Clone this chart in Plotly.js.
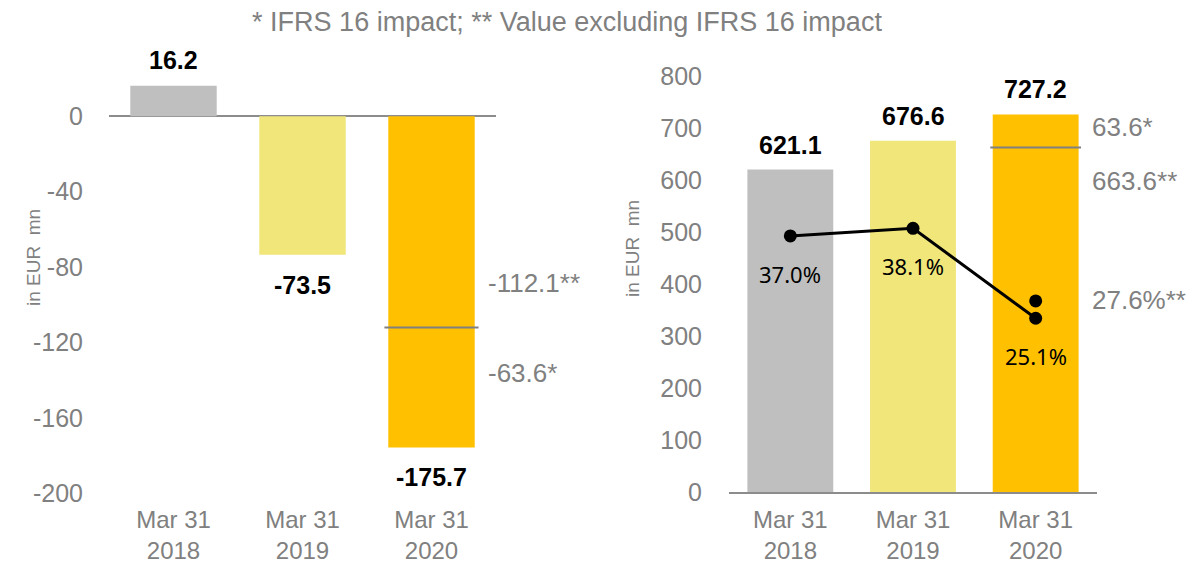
<!DOCTYPE html>
<html>
<head>
<meta charset="utf-8">
<script src="https://cdn.plot.ly/plotly-3.0.1.min.js"></script>
<style>html,body{margin:0;padding:0;background:#fff;}#chart{width:1203px;height:566px;}</style>
</head>
<body>
<div id="chart"></div>
<script>
// ---- data ----
const years = ['2018', '2019', '2020'];
const tickLabels = ['Mar 31<br>2018', 'Mar 31<br>2019', 'Mar 31<br>2020'];
const leftValues = [16.2, -73.5, -175.7];
const leftValueLabels = ['16.2', '-73.5', '-175.7'];
const leftExclValue = -112.1;      // ** value excluding IFRS 16 impact
const leftExclLabel = '-112.1**';
const leftImpactLabel = '-63.6*';  // * IFRS 16 impact
const rightValues = [621.1, 676.6, 727.2];
const rightValueLabels = ['621.1', '676.6', '727.2'];
const rightExclValue = 663.6;
const rightExclLabel = '663.6**';
const rightImpactLabel = '63.6*';
const marginPct = [37.0, 38.1, 25.1];
const marginLabels = ['37.0%', '38.1%', '25.1%'];
const marginExclPct = 27.6;
const marginExclLabel = '27.6%**';
const leftTicks = [-200, -160, -120, -80, -40, 0];
const rightTicks = [0, 100, 200, 300, 400, 500, 600, 700, 800];
const barColors = ['#BFBFBF', '#F0E67A', '#FFC000'];
const titleText = '* IFRS 16 impact; ** Value excluding IFRS 16 impact';
const yTitle = 'in EUR  mn';

// ---- styles ----
const FONT = 'Liberation Sans, Arial, sans-serif';
const GRAY = '#808080';
const AXISGRAY = '#8C8C8C';
const leftBarWidth = 0.67;
const rightBarWidth = 0.70;
const idx = years.map((_, i) => i);

const traces = [
  {type: 'bar', x: years, y: leftValues, xaxis: 'x', yaxis: 'y',
   marker: {color: barColors}, width: leftBarWidth, hoverinfo: 'none', showlegend: false},
  {type: 'bar', x: years, y: rightValues, xaxis: 'x2', yaxis: 'y2',
   marker: {color: barColors}, width: rightBarWidth, hoverinfo: 'none', showlegend: false},
  {type: 'scatter', mode: 'lines+markers', x: years, y: marginPct, xaxis: 'x2', yaxis: 'y3',
   line: {color: '#000', width: 3}, marker: {color: '#000', size: 13}, showlegend: false, hoverinfo: 'none'},
  {type: 'scatter', mode: 'markers', x: [years[2]], y: [marginExclPct], xaxis: 'x2', yaxis: 'y3',
   marker: {color: '#000', size: 13}, showlegend: false, hoverinfo: 'none'}
];

const annotations = [];
// left bar value labels
leftValues.forEach((v, i) => annotations.push({
  xref: 'x', yref: 'y', x: idx[i], y: v, text: '<b>' + leftValueLabels[i] + '</b>',
  showarrow: false, yanchor: 'middle', yshift: v >= 0 ? 26 : -30,
  font: {family: FONT, size: 25, color: '#000'}
}));
// right bar value labels
rightValues.forEach((v, i) => annotations.push({
  xref: 'x2', yref: 'y2', x: idx[i], y: v, text: '<b>' + rightValueLabels[i] + '</b>',
  showarrow: false, yanchor: 'middle', yshift: 25,
  font: {family: FONT, size: 25, color: '#000'}
}));
// margin labels
marginPct.forEach((v, i) => annotations.push({
  xref: 'x2', yref: 'y3', x: idx[i], y: v, text: marginLabels[i],
  showarrow: false, yanchor: 'middle', yshift: -38,
  font: {family: 'Noto Sans, sans-serif', size: 22, color: '#000'}
}));
// gray side labels
const side = (xref, yref, y, text, yshift) => ({
  xref: xref, yref: yref, x: idx[2], y: y, text: text, showarrow: false,
  xanchor: 'left', yanchor: 'middle', xshift: 54, yshift: yshift,
  font: {family: FONT, size: 26, color: GRAY}
});
annotations.push(side('x', 'y', leftExclValue, leftExclLabel, 45));
annotations.push(side('x', 'y', leftExclValue, leftImpactLabel, -45));
annotations.push(side('x2', 'y2', rightExclValue, rightImpactLabel, 21));
annotations.push(side('x2', 'y2', rightExclValue, rightExclLabel, -33));
annotations.push(side('x2', 'y3', marginExclPct, marginExclLabel, 1));
// y axis titles
annotations.push({xref: 'paper', yref: 'paper', x: 33 / 1203, y: 1 - 258 / 566, text: yTitle,
  textangle: -90, showarrow: false, xanchor: 'center', yanchor: 'middle',
  font: {family: FONT, size: 19, color: GRAY}});
annotations.push({xref: 'paper', yref: 'paper', x: 632 / 1203, y: 1 - 249 / 566, text: yTitle,
  textangle: -90, showarrow: false, xanchor: 'center', yanchor: 'middle',
  font: {family: FONT, size: 19, color: GRAY}});

const shapes = [
  {type: 'line', xref: 'x', yref: 'y', x0: idx[2] - leftBarWidth / 2 - 0.03, x1: idx[2] + leftBarWidth / 2 + 0.03,
   y0: leftExclValue, y1: leftExclValue, line: {color: GRAY, width: 2}},
  {type: 'line', xref: 'x2', yref: 'y2', x0: idx[2] - rightBarWidth / 2 - 0.02, x1: idx[2] + rightBarWidth / 2 + 0.02,
   y0: rightExclValue, y1: rightExclValue, line: {color: GRAY, width: 2}}
];

const xCommon = {
  type: 'category', range: [-0.5, 2.5], tickvals: years, ticktext: tickLabels,
  showgrid: false, zeroline: false, ticks: 'outside', ticklen: 5, tickcolor: 'rgba(0,0,0,0)',
  tickfont: {family: FONT, size: 24, color: GRAY}, fixedrange: true
};

const layout = {
  width: 1203, height: 566,
  margin: {l: 0, r: 0, t: 0, b: 0},
  paper_bgcolor: '#fff', plot_bgcolor: 'rgba(0,0,0,0)',
  showlegend: false,
  title: {text: titleText, x: 567 / 1203, xanchor: 'center', y: 1 - 22 / 566, yanchor: 'middle',
          font: {family: FONT, size: 27, color: GRAY}},
  xaxis: Object.assign({}, xCommon, {domain: [109 / 1203, 496 / 1203], anchor: 'y', showline: false}),
  yaxis: {domain: [(566 - 493.3) / 566, (566 - 40.9) / 566], range: [-200, 40], anchor: 'x',
          tickvals: leftTicks, ticktext: leftTicks.map(String), showgrid: false,
          zeroline: true, zerolinecolor: AXISGRAY, zerolinewidth: 2,
          showline: false, ticks: 'outside', ticklen: 20, tickcolor: 'rgba(0,0,0,0)',
          tickfont: {family: FONT, size: 25, color: GRAY}},
  xaxis2: Object.assign({}, xCommon, {domain: [729 / 1203, 1097 / 1203], anchor: 'y2',
          showline: true, linecolor: AXISGRAY, linewidth: 2}),
  yaxis2: {domain: [(566 - 492) / 566, (566 - 76.7) / 566], range: [0, 800], anchor: 'x2',
          tickvals: rightTicks, showgrid: false, zeroline: false, showline: false,
          ticks: 'outside', ticklen: 21, tickcolor: 'rgba(0,0,0,0)',
          tickfont: {family: FONT, size: 25, color: GRAY}},
  yaxis3: {overlaying: 'y2', anchor: 'x2', range: [0, 60], visible: false, showgrid: false, zeroline: false},
  annotations: annotations,
  shapes: shapes,
  bargap: 0.3
};

Plotly.newPlot('chart', traces, layout, {displayModeBar: false, staticPlot: true});
</script>
</body>
</html>
